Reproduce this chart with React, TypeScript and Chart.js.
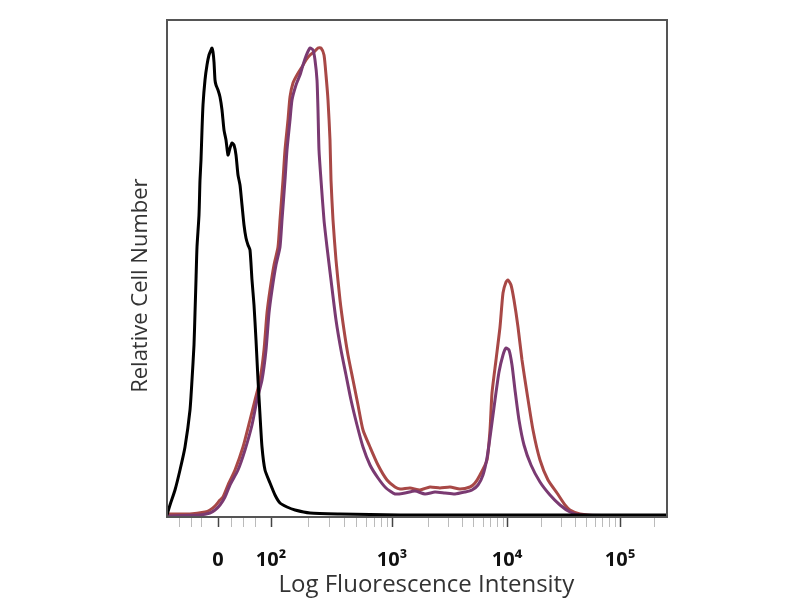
import React, { useEffect, useRef } from "react";
import { Chart, registerables } from "chart.js";

Chart.register(...registerables);

// x: display channel (0..500), y: relative count (0..497)
const blackX = [0, 3, 8, 13, 18, 23, 25, 27, 28, 29, 30, 32, 33, 34, 35, 36, 38, 40, 42, 44, 45, 46, 47, 48, 49, 51, 53, 55, 57, 59, 61, 63, 65, 67, 69, 71, 73, 75, 77, 79, 81, 83, 85, 87, 89, 91, 93, 95, 98, 103, 108, 113, 120, 128, 143, 173, 233, 333, 433, 500];
const blackY = [2, 12, 27, 47, 70, 107, 137, 172, 204, 237, 270, 302, 337, 357, 387, 412, 437, 452, 462, 467, 469, 465, 455, 437, 432, 427, 420, 407, 387, 377, 362, 369, 374, 372, 362, 342, 332, 312, 292, 279, 272, 267, 237, 212, 177, 137, 102, 70, 47, 34, 22, 14, 10, 7, 4, 3, 2, 2, 2, 2];

const redX = [0, 23, 38, 43, 48, 53, 56, 61, 68, 76, 83, 88, 93, 97, 100, 103, 107, 111, 113, 116, 118, 121, 123, 126, 130, 135, 139, 143, 147, 151, 154, 157, 159, 161, 163, 164, 166, 169, 173, 177, 181, 186, 191, 196, 203, 211, 220, 228, 233, 243, 253, 263, 273, 283, 293, 303, 308, 313, 320, 323, 325, 329, 333, 336, 339, 341, 344, 347, 351, 355, 360, 366, 373, 381, 390, 398, 403, 413, 433, 500];
const redY = [3, 3, 5, 7, 11, 17, 20, 32, 47, 70, 97, 117, 137, 167, 204, 227, 252, 270, 297, 337, 367, 397, 420, 434, 442, 450, 457, 462, 465, 469, 469, 462, 442, 417, 377, 337, 297, 257, 217, 187, 162, 137, 112, 87, 70, 52, 37, 30, 28, 29, 27, 30, 29, 30, 28, 30, 34, 42, 57, 87, 124, 157, 190, 224, 235, 237, 232, 217, 190, 157, 124, 87, 57, 37, 24, 12, 7, 3, 1, 1];

const purpleX = [0, 33, 43, 48, 53, 58, 63, 71, 78, 85, 90, 95, 99, 102, 105, 109, 113, 115, 118, 120, 123, 125, 129, 133, 136, 139, 143, 146, 148, 150, 151, 152, 154, 157, 160, 164, 169, 174, 179, 184, 190, 196, 203, 211, 219, 228, 238, 248, 258, 268, 278, 288, 298, 305, 311, 316, 320, 324, 328, 332, 336, 339, 342, 345, 348, 352, 357, 364, 373, 383, 393, 403, 413, 500];
const purpleY = [1, 2, 4, 7, 12, 20, 32, 47, 67, 92, 117, 137, 167, 204, 227, 252, 270, 297, 337, 367, 397, 417, 432, 442, 452, 461, 469, 467, 457, 437, 407, 367, 337, 297, 270, 237, 197, 167, 142, 117, 92, 70, 52, 39, 29, 23, 24, 26, 23, 25, 24, 23, 25, 27, 32, 42, 59, 87, 117, 145, 162, 169, 167, 152, 127, 97, 72, 52, 35, 22, 12, 5, 2, 1];

const majorTickValues = [51, 104, 225, 340, 453];
const majorTickLabels = ["0", "10²", "10³", "10⁴", "10⁵"];
const minorTickValues = [12, 24, 34, 64, 76, 88, 141, 162, 177, 189, 199, 207, 214, 220, 261, 281, 295, 306, 316, 323, 330, 336, 374, 394, 408, 419, 428, 435, 442, 448, 487];

const xTitle = "Log Fluorescence Intensity";
const yTitle = "Relative Cell Number";

const toPoints = (xs: number[], ys: number[]) => xs.map((x, i) => ({ x, y: ys[i] }));

const framePlugin = {
  id: "frame",
  afterDatasetsDraw(chart: any) {
    const { ctx, chartArea } = chart;
    ctx.save();
    ctx.strokeStyle = "#555";
    ctx.lineWidth = 2;
    ctx.strokeRect(chartArea.left, chartArea.top, chartArea.right - chartArea.left, chartArea.bottom - chartArea.top);
    ctx.restore();
  },
};

export default function App() {
  const ref = useRef<HTMLCanvasElement | null>(null);
  useEffect(() => {
    if (!ref.current) return;
    const allTicks = [...majorTickValues, ...minorTickValues].sort((a, b) => a - b);
    const chart = new Chart(ref.current, {
      type: "line",
      data: {
        datasets: [
          { label: "Isotype", data: toPoints(blackX, blackY), borderColor: "#000000", borderWidth: 3 },
          { label: "Sample A", data: toPoints(purpleX, purpleY), borderColor: "#7a3a72", borderWidth: 3 },
          { label: "Sample B", data: toPoints(redX, redY), borderColor: "#a84846", borderWidth: 3 },
        ],
      },
      options: {
        animation: false,
        responsive: false,
        devicePixelRatio: 1,
        layout: { padding: { left: 124, right: 133, top: 20, bottom: 0 } },
        elements: { point: { radius: 0 }, line: { tension: 0.2 } },
        plugins: { legend: { display: false }, tooltip: { enabled: false } },
        scales: {
          x: {
            type: "linear",
            min: 0,
            max: 500,
            border: { display: false },
            afterFit: (s: any) => { s.height = 83; },
            afterBuildTicks: (s: any) => { s.ticks = allTicks.map((v) => ({ value: v })); },
            grid: {
              drawOnChartArea: false,
              drawTicks: true,
              tickLength: 10,
              tickWidth: (c: any) => (majorTickValues.includes(c.tick?.value) ? 1.5 : 1),
              tickColor: (c: any) => (majorTickValues.includes(c.tick?.value) ? "#444" : "#bbb"),
            },
            ticks: {
              autoSkip: false,
              maxRotation: 0,
              padding: 21,
              color: "#111",
              font: { family: "Open Sans", size: 20, weight: "bold" },
              callback: (v: any) => {
                const i = majorTickValues.indexOf(Number(v));
                return i >= 0 ? majorTickLabels[i] : "";
              },
            },
            title: {
              display: true,
              text: "   " + xTitle,
              color: "#333",
              padding: { top: 0, bottom: 0 },
              font: { family: "Open Sans", size: 24 },
            },
          },
          y: {
            type: "linear",
            min: 0,
            max: 497,
            border: { display: false },
            afterFit: (s: any) => { s.width = 43; },
            grid: { display: false },
            ticks: { display: false },
            title: {
              display: true,
              text: yTitle + "      ",
              color: "#333",
              padding: { top: 4, bottom: 0 },
              font: { family: "Open Sans", size: 22 },
            },
          },
        },
      },
      plugins: [framePlugin],
    } as any);
    return () => chart.destroy();
  }, []);
  return (
    <div style={{ position: "absolute", left: 0, top: 0, width: 800, height: 600, background: "#fff" }}>
      <canvas ref={ref} width={800} height={600} />
    </div>
  );
}
